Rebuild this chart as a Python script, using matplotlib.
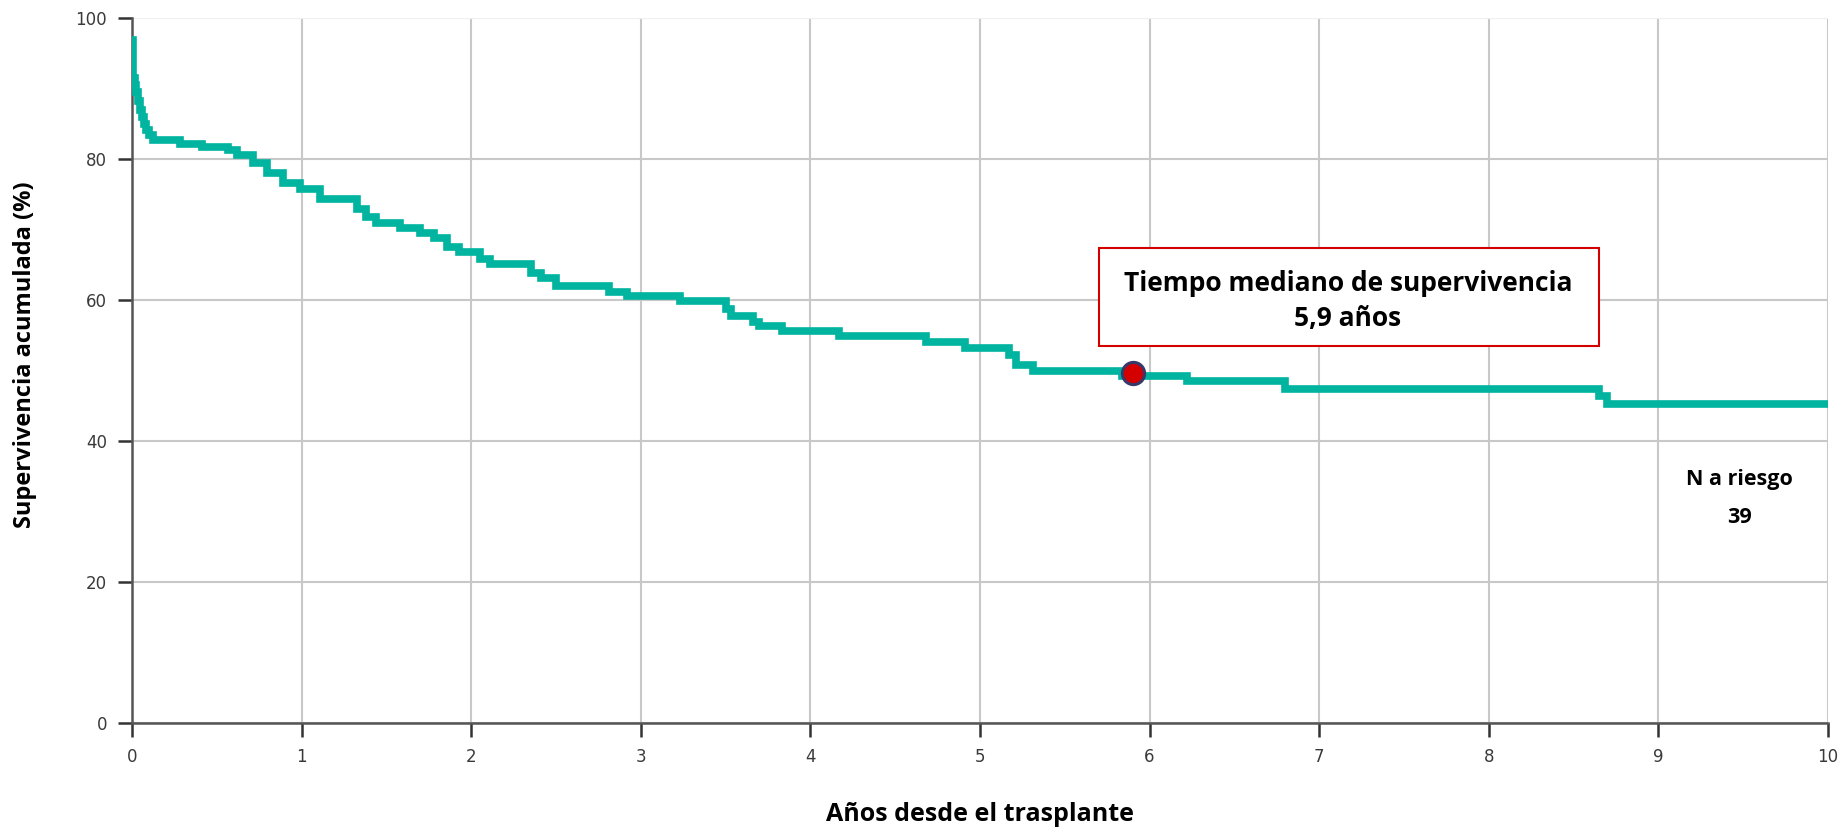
import numpy as np
import matplotlib.pyplot as plt
from matplotlib.patches import Rectangle

# Kaplan-Meier curve (years, cumulative survival %)
years = [0.0, 0.004, 0.008, 0.015, 0.025, 0.035, 0.048, 0.06, 0.072, 0.085, 0.1, 0.125,
         0.283, 0.411, 0.568, 0.617, 0.715, 0.794, 0.892, 0.99, 1.108, 1.324, 1.38,
         1.44, 1.58, 1.70, 1.78, 1.856, 1.93, 2.05, 2.11, 2.35, 2.41, 2.50, 2.81,
         2.92, 3.23, 3.50, 3.53, 3.66, 3.70, 3.83, 4.17, 4.68, 4.91, 5.17, 5.21,
         5.31, 5.84, 6.22, 6.80, 8.65, 8.70, 10.0]
survival = [96.9, 94.0, 91.5, 90.6, 89.5, 88.3, 87.0, 86.0, 85.0, 84.2, 83.4, 82.8,
            82.2, 81.7, 81.3, 80.6, 79.4, 78.0, 76.6, 75.8, 74.4, 73.0, 71.8,
            70.9, 70.2, 69.5, 68.8, 67.6, 66.9, 65.9, 65.2, 63.8, 63.1, 62.0, 61.2,
            60.6, 59.9, 58.8, 57.8, 56.9, 56.3, 55.6, 54.9, 54.1, 53.2, 52.2, 50.8,
            50.0, 49.2, 48.5, 47.4, 46.4, 45.3, 45.3]

median_years = 5.9
median_surv = 49.6
n_at_risk = 39

x_ticks = list(range(0, 11))
y_ticks = [0, 20, 40, 60, 80, 100]

FONT = 'Open Sans'

fig = plt.figure(figsize=(18.41, 8.32), dpi=100)
ax = fig.add_axes([0.0717, 0.131, 0.9212, 0.847])

ax.step(years, survival, where='post', color='#00b4a0', lw=5.5,
        solid_joinstyle='miter', solid_capstyle='butt', zorder=3)
ax.plot([median_years], [median_surv], 'o', ms=16, mfc='#d40000',
        mec='#353a6b', mew=2.2, zorder=4)

ax.set_xlim(0, 10)
ax.set_ylim(0, 100)
ax.set_xticks(x_ticks)
ax.set_yticks(y_ticks)
ax.grid(True, color='#c8c8c8', lw=1.5, zorder=0)
ax.get_ygridlines()[-1].set_color('#efefef')
for s in ['top', 'right']:
    ax.spines[s].set_visible(False)
for s in ['left', 'bottom']:
    ax.spines[s].set_color('#555555')
    ax.spines[s].set_linewidth(1.8)
ax.tick_params(direction='out', length=10, width=1.8, color='#333333',
               labelsize=12, labelcolor='#3a3a3a', pad=8)

ax.set_xlabel('Años desde el trasplante', fontfamily=FONT, fontweight='bold',
              fontsize=18, va='center')
ax.xaxis.set_label_coords(0.5, -0.1305)
ax.set_ylabel('Supervivencia acumulada (%)', fontfamily=FONT, fontweight='bold',
              fontsize=17, va='center')
ax.yaxis.set_label_coords(-0.063, 0.522)

# annotation box for the median
ax.add_patch(Rectangle((5.70, 53.5), 2.95, 13.9, facecolor='white',
                       edgecolor='#d40000', lw=1.5, zorder=5))
ax.text(7.17, 59.9, 'Tiempo mediano de supervivencia\n5,9 años', ha='center',
        va='center', fontfamily=FONT, fontweight='bold', fontsize=19,
        linespacing=1.35, zorder=6)

ax.text(9.48, 31.9, f'N a riesgo\n{n_at_risk}', ha='center', va='center',
        fontfamily=FONT, fontweight='bold', fontsize=15.5, linespacing=2.05)

fig.savefig('out.png', dpi=100)
